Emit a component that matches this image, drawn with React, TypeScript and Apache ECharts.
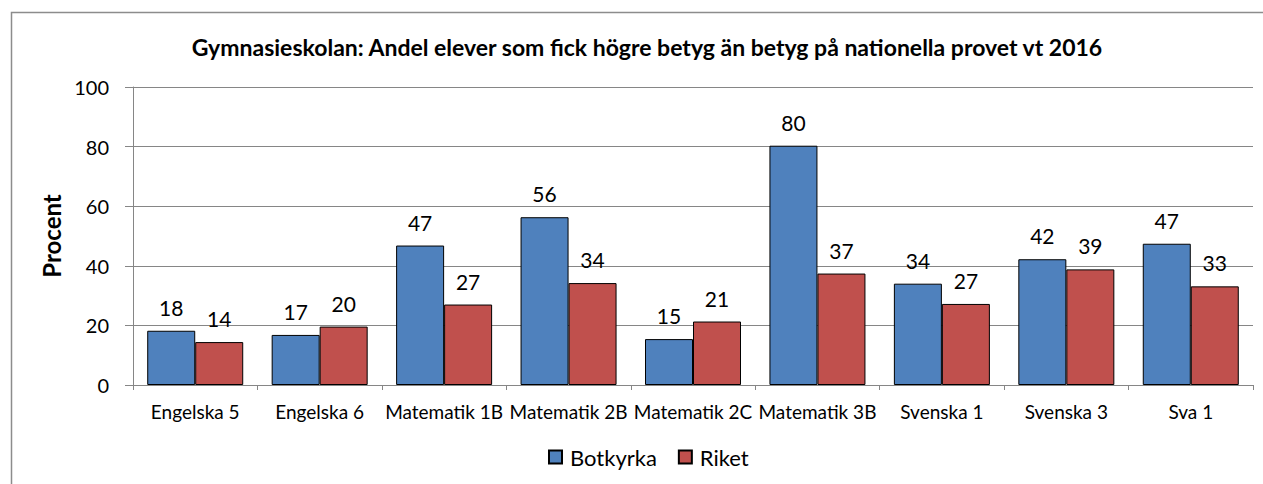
import React, { useEffect, useRef } from "react";
import * as echarts from "echarts";

const categories = [
  "Engelska 5",
  "Engelska 6",
  "Matematik 1B",
  "Matematik 2B",
  "Matematik 2C",
  "Matematik 3B",
  "Svenska 1",
  "Svenska 3",
  "Sva 1",
];
const botkyrka = [18.2, 16.8, 46.8, 56.3, 15.4, 80.3, 34.0, 42.2, 47.4];
const riket = [14.4, 19.6, 27.0, 34.2, 21.3, 37.4, 27.2, 38.8, 33.1];
const yTicks = { min: 0, max: 100, interval: 20 };

const FONT = "Lato, 'Open Sans', sans-serif";

export default function App() {
  const ref = useRef<HTMLDivElement>(null);
  useEffect(() => {
    if (!ref.current) return;
    const chart = echarts.init(ref.current, null, { renderer: "svg" });
    const labelCfg = {
      show: true,
      position: "top",
      distance: 13,
      fontSize: 21,
      fontFamily: FONT,
      color: "#000",
      formatter: (p: any) => String(Math.round(p.value)),
    };
    chart.setOption({
      animation: false,
      backgroundColor: "#fff",
      textStyle: { fontFamily: FONT },
      title: {
        text: "Gymnasieskolan: Andel elever som fick högre betyg än betyg på nationella provet vt 2016",
        left: 642,
        top: 30,
        textAlign: "center",
        textStyle: { fontSize: 23, fontWeight: "bold", color: "#000", fontFamily: FONT },
      },
      graphic: [
        {
          type: "rect",
          shape: { x: 11.5, y: 12.5, width: 1300, height: 520 },
          style: { fill: "none", stroke: "#8c8c8c", lineWidth: 1.5 },
          silent: true,
        },
      ],
      legend: {
        data: ["Botkyrka", "Riket"],
        left: 543,
        top: 441,
        itemWidth: 13,
        itemHeight: 13,
        itemGap: 21,
        icon: "rect",
        textStyle: { fontSize: 22, color: "#000", fontFamily: FONT, padding: [0, 0, 0, 3] },
      },
      grid: { left: 133, right: 10, top: 87, bottom: 99, containLabel: false },
      xAxis: {
        type: "category",
        data: categories,
        axisLine: { lineStyle: { color: "#868686", width: 1 } },
        axisTick: { show: true, length: 5, lineStyle: { color: "#868686" } },
        axisLabel: { fontSize: 19, color: "#000", fontFamily: FONT, margin: 17, interval: 0 },
      },
      yAxis: {
        type: "value",
        min: yTicks.min,
        max: yTicks.max,
        interval: yTicks.interval,
        name: "Procent",
        nameLocation: "middle",
        nameGap: 68,
        nameRotate: 90,
        nameTextStyle: { fontSize: 24, fontWeight: "bold", color: "#000", fontFamily: FONT },
        axisLine: { show: true, lineStyle: { color: "#868686" } },
        axisTick: { show: true, length: 8, lineStyle: { color: "#868686" } },
        axisLabel: { fontSize: 20, color: "#000", fontFamily: FONT, margin: 24 },
        splitLine: { show: true, lineStyle: { color: "#868686", width: 1 } },
      },
      series: [
        {
          name: "Botkyrka",
          type: "bar",
          data: botkyrka,
          barWidth: 48,
          barGap: "0%",
          itemStyle: { color: "#4F81BD", borderColor: "#000", borderWidth: 1 },
          label: labelCfg,
        },
        {
          name: "Riket",
          type: "bar",
          data: riket,
          barWidth: 48,
          barGap: "0%",
          itemStyle: { color: "#C0504D", borderColor: "#000", borderWidth: 1 },
          label: labelCfg,
        },
      ],
    });
    return () => chart.dispose();
  }, []);
  return (
    <div
      ref={ref}
      style={{ position: "absolute", left: 0, top: 0, width: 1263, height: 484 }}
    />
  );
}
